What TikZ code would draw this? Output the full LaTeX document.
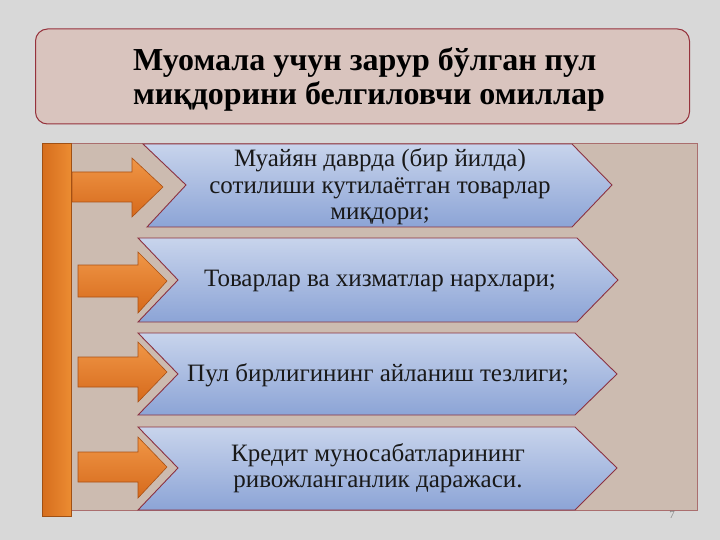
\documentclass[tikz,border=0pt]{standalone}
\usepackage{fontspec}
\setmainfont{Liberation Serif}
\definecolor{bggray}{RGB}{216,216,216}
\definecolor{titleborder}{RGB}{150,50,60}
\definecolor{titlefill}{RGB}{217,196,190}
\definecolor{panelborder}{RGB}{170,110,110}
\definecolor{panelfill}{RGB}{204,187,176}
\definecolor{barborder}{RGB}{160,80,20}
\definecolor{barleft}{RGB}{214,110,30}
\definecolor{barright}{RGB}{236,140,50}
\definecolor{chevborder}{RGB}{140,50,65}
\definecolor{chevtop}{RGB}{200,212,236}
\definecolor{chevbottom}{RGB}{140,164,214}
\definecolor{arrborder}{RGB}{170,80,20}
\definecolor{arrtop}{RGB}{240,150,70}
\definecolor{arrbottom}{RGB}{214,106,28}
\begin{document}
\begin{tikzpicture}[x=1pt,y=-1pt,
  chev/.style={draw=chevborder, line width=0.9pt, top color=chevtop, bottom color=chevbottom},
  arr/.style={draw=arrborder, line width=0.6pt, top color=arrtop, bottom color=arrbottom},
  itemtxt/.style={font=\fontsize{25}{26.5}\selectfont, align=center, text=black!90}]
\useasboundingbox (0,0) rectangle (720,540);
\fill[bggray] (0,0) rectangle (720,540);
% title
\node[draw=titleborder, line width=1pt, rounded corners=12pt,
  fill=titlefill, minimum width=654pt, minimum height=95pt] (title) at (362.5,76.5) {};
\node[font=\bfseries\fontsize{32}{34}\selectfont, align=left] (titletext) at (369,79)
  {Муомала учун зарур бўлган пул\\миқдорини белгиловчи омиллар};
% panel
\node[draw=panelborder, line width=0.6pt, fill=panelfill,
  minimum width=655pt, minimum height=367pt, anchor=north west, inner sep=0pt] (panel) at (42,143) {};
% bar
\node[draw=barborder, line width=0.6pt, left color=barleft, right color=barright,
  minimum width=29pt, minimum height=373pt, anchor=north west, inner sep=0pt] (bar) at (42,143) {};
% chevrons
\path[chev] (143,144) -- (572,144) -- (612,185) -- (572,227) -- (147,227) -- (186,185) -- cycle;
\path[chev] (138,238) -- (577,238) -- (618,280) -- (577,322) -- (138,322) -- (178,280) -- cycle;
\path[chev] (138,333) -- (575,333) -- (617,374) -- (575,415) -- (138,415) -- (178,374) -- cycle;
\path[chev] (138,427) -- (575,427) -- (617,468) -- (575,510) -- (138,510) -- (178,468) -- cycle;
% arrows
\path[arr] (72,172)--(132,172)--(132,158)--(163,187)--(132,217)--(132,202)--(72,202)--cycle;
\path[arr] (78,265)--(138,265)--(138,252)--(167,281)--(138,313)--(138,297)--(78,297)--cycle;
\path[arr] (78,357)--(138,357)--(138,342)--(167,372)--(138,402)--(138,387)--(78,387)--cycle;
\path[arr] (78,452)--(138,452)--(138,437)--(167,467)--(138,498)--(138,482)--(78,482)--cycle;
% texts
\node[itemtxt] (t1) at (380,187) {Муайян даврда (бир йилда)\\сотилиши кутилаётган товарлар\\миқдори;};
\node[itemtxt] (t2) at (380,281) {Товарлар ва хизматлар нархлари;};
\node[itemtxt] (t3) at (378,375) {Пул бирлигининг айланиш тезлиги;};
\node[itemtxt] (t4) at (378,468) {Кредит муносабатларининг\\ривожланганлик даражаси.};
\node[font=\fontsize{11}{13}\selectfont, text=black!50] (pg) at (672,515) {7};
\end{tikzpicture}
\end{document}
